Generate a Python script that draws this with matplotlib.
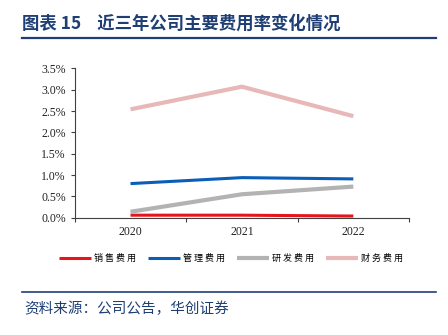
import matplotlib.pyplot as plt
from matplotlib.ticker import FixedLocator, PercentFormatter

plt.rcParams['font.family'] = ['Noto Sans CJK SC', 'DejaVu Sans']

years = ['2020', '2021', '2022']
sales = [0.06, 0.06, 0.04]
admin = [0.80, 0.94, 0.91]
rnd = [0.14, 0.55, 0.73]
finance = [2.54, 3.07, 2.38]

labels = ['销 售 费 用', '管 理 费 用', '研 发 费 用', '财 务 费 用']
colors = ['#E8141C', '#0A5EB8', '#B3B3B3', '#E8B8B8']
navy = '#1F3F74'

fig = plt.figure(figsize=(4.48, 3.35), dpi=100)
ax = fig.add_axes([0.167, 0.350, 0.746, 0.446])

x = range(len(years))
for vals, lab, c, lw in zip([sales, admin, rnd, finance], labels, colors, [2.2, 2.2, 3.0, 3.0]):
    ax.plot(x, vals, color=c, lw=lw, label=lab, solid_capstyle='butt')

ax.set_xlim(-0.5, 2.5)
ax.set_ylim(0, 3.5)
ax.yaxis.set_major_locator(FixedLocator([i * 0.5 for i in range(8)]))
ax.yaxis.set_major_formatter(PercentFormatter(decimals=1))
ax.xaxis.set_major_locator(FixedLocator([-0.5, 0.5, 1.5, 2.5]))
ax.xaxis.set_major_formatter(plt.NullFormatter())
ax.xaxis.set_minor_locator(FixedLocator(list(x)))
ax.set_xticklabels(years, minor=True)
ax.tick_params(axis='x', which='minor', length=0, pad=6)
ax.tick_params(axis='both', which='major', length=3, color='#404040', width=0.8)
for lab in ax.get_yticklabels() + ax.get_xticklabels(minor=True):
    lab.set_fontfamily('Liberation Serif')
    lab.set_fontsize(8.5)
    lab.set_color('#222222')
for s in ['top', 'right']:
    ax.spines[s].set_visible(False)
for s in ['left', 'bottom']:
    ax.spines[s].set_color('#404040')
    ax.spines[s].set_linewidth(0.8)

fig.legend(loc='center', bbox_to_anchor=(0.515, 0.228), ncol=4, frameon=False,
           prop={'family': 'Noto Sans CJK SC', 'size': 6.5}, handlelength=3.6,
           handletextpad=0.3, columnspacing=1.3)

fig.text(0.05, 0.928, '图表 15    近三年公司主要费用率变化情况', color=navy,
         fontsize=12.5, fontweight='bold', va='center', ha='left')
fig.add_artist(plt.Line2D([0.05, 0.973], [0.886, 0.886], color=navy, lw=1.6))
fig.add_artist(plt.Line2D([0.05, 0.973], [0.129, 0.129], color=navy, lw=1.2))
fig.text(0.055, 0.078, '资料来源：公司公告，华创证券', color=navy, fontsize=10.5,
         style='italic', va='center', ha='left')

fig.savefig('out.png', dpi=100)
